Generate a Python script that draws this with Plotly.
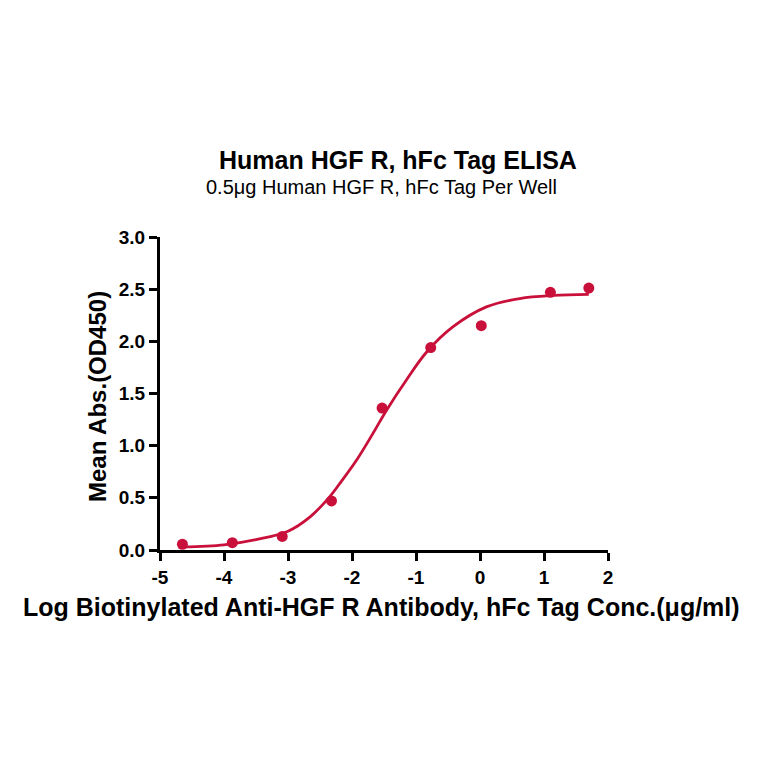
import plotly.graph_objects as go

# data
log_conc = [-4.65, -3.87, -3.09, -2.32, -1.53, -0.77, 0.02, 1.10, 1.70]
mean_abs = [0.055, 0.07, 0.13, 0.47, 1.36, 1.94, 2.15, 2.47, 2.51]

# fitted curve
fit_x = [-4.65, -4.0, -3.5, -3.0, -2.65, -2.35, -2.2, -1.93, -1.67, -1.46, -1.15, -0.83, -0.42, 0.1, 0.62, 1.15, 1.7]
fit_y = [0.03, 0.05, 0.10, 0.18, 0.32, 0.51, 0.63, 0.86, 1.12, 1.34, 1.63, 1.90, 2.14, 2.33, 2.41, 2.44, 2.45]

x_ticks = [-5, -4, -3, -2, -1, 0, 1, 2]
y_ticks = [0.0, 0.5, 1.0, 1.5, 2.0, 2.5, 3.0]

RED = "#C8103A"
FONT = "Liberation Sans, Arial, sans-serif"

# plot area in screenshot pixels: x 160..608, y 237..550
def px(x):
    return (x - 160) / 448

def py(y):
    return (550 - y) / 313

def label(text, x, y, size, angle=0):
    return dict(text=text, x=px(x), y=py(y), xref="paper", yref="paper", xanchor="center",
                yanchor="middle", showarrow=False, textangle=angle, font=dict(size=size))

fig = go.Figure()
fig.add_trace(go.Scatter(x=fit_x, y=fit_y, mode="lines", line=dict(color=RED, width=2.8, shape="spline"),
                         showlegend=False, cliponaxis=False))
fig.add_trace(go.Scatter(x=log_conc, y=mean_abs, mode="markers", marker=dict(color=RED, size=11),
                         showlegend=False, cliponaxis=False))

fig.update_layout(
    width=764, height=764,
    paper_bgcolor="white", plot_bgcolor="white",
    margin=dict(l=152, r=164, t=229, b=222),
    font=dict(family=FONT, color="black"),
    annotations=[
        label("<b>Human HGF R, hFc Tag ELISA</b>", 398, 160, 25),
        label("0.5μg Human HGF R, hFc Tag Per Well", 381, 187, 20),
        label("<b>Log Biotinylated Anti-HGF R Antibody, hFc Tag Conc.(μg/ml)</b>", 381, 607, 25),
        label("<b>Mean Abs.(OD450)</b>", 97, 397, 24, angle=-90),
    ],
)

fig.update_xaxes(range=[-5, 2], tickvals=x_ticks, ticktext=[f"<b>{v}</b>" for v in x_ticks],
                 showgrid=False, zeroline=False, showline=True, linecolor="black", linewidth=3,
                 ticks="outside", tickwidth=3, ticklen=8, tickcolor="black",
                 tickfont=dict(size=19), fixedrange=True)
fig.update_yaxes(range=[0, 3], tickvals=y_ticks, ticktext=[f"<b>{v:.1f}</b>" for v in y_ticks],
                 showgrid=False, zeroline=False, showline=True, linecolor="black", linewidth=3,
                 ticks="outside", tickwidth=3, ticklen=8, tickcolor="black",
                 tickfont=dict(size=19), fixedrange=True)

fig.write_html("out.html")
